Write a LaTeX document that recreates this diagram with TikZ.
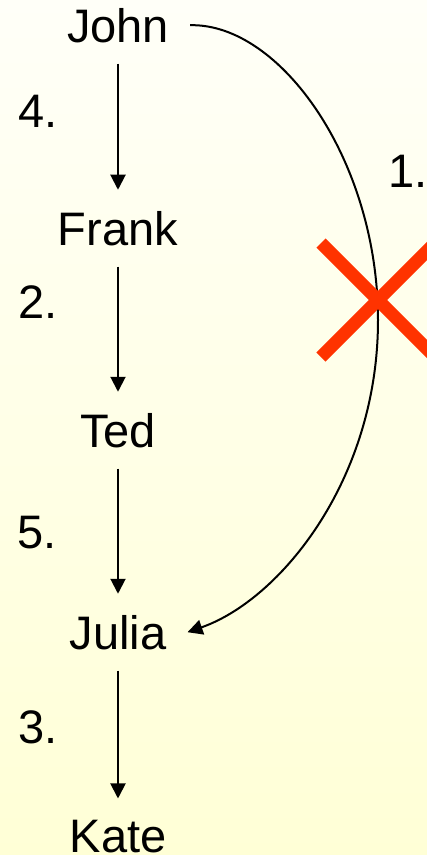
\documentclass[tikz,border=0pt]{standalone}
\usepackage{fontspec}
\setmainfont{Liberation Sans}
\usetikzlibrary{arrows.meta}
\definecolor{bgtop}{RGB}{255,255,248}
\definecolor{bgbot}{RGB}{255,255,214}
\definecolor{crossred}{RGB}{255,51,0}

\begin{document}
\begin{tikzpicture}[x=1pt, y=-1pt,
    person/.style={inner sep=21pt, anchor=base, font=\fontsize{47}{56}\selectfont},
    num/.style={inner sep=0pt, anchor=base west, font=\fontsize{47}{56}\selectfont},
    link/.style={line width=2pt, -{Triangle[length=15pt, width=15pt]}}]
    \shade[top color=bgtop, bottom color=bgbot] (0,0) rectangle (427,855);
    \useasboundingbox (0,0) rectangle (427,855);
    % the chain
    \node[person] (john)  at (118,42)  {John};
    \node[person] (frank) at (118,245) {Frank};
    \node[person] (ted)   at (118,447) {Ted};
    \node[person] (julia) at (118,649) {Julia};
    \node[person] (kate)  at (118,852) {Kate};
    \draw[link] (john) -- (frank);
    \draw[link] (frank) -- (ted);
    \draw[link] (ted) -- (julia);
    \draw[link] (julia) -- (kate);
    \node[num] (n4) at (18,127) {4.};
    \node[num] (n2) at (18,318) {2.};
    \node[num] (n5) at (17,548) {5.};
    \node[num] (n3) at (18,743) {3.};
    % the skip
    \coordinate (bend) at (378,320);
    \draw[link] (john.east) .. controls (280,23) and (378,160) .. (bend)
        .. controls (378,480) and (280,600) .. (julia.east);
    \node[num] (n1) at (388,187) {1.};
    \begin{scope}[crossred, line width=13pt]
        \draw (321,243) -- (435,357);
        \draw (321,357) -- (435,243);
    \end{scope}
\end{tikzpicture}
\end{document}
